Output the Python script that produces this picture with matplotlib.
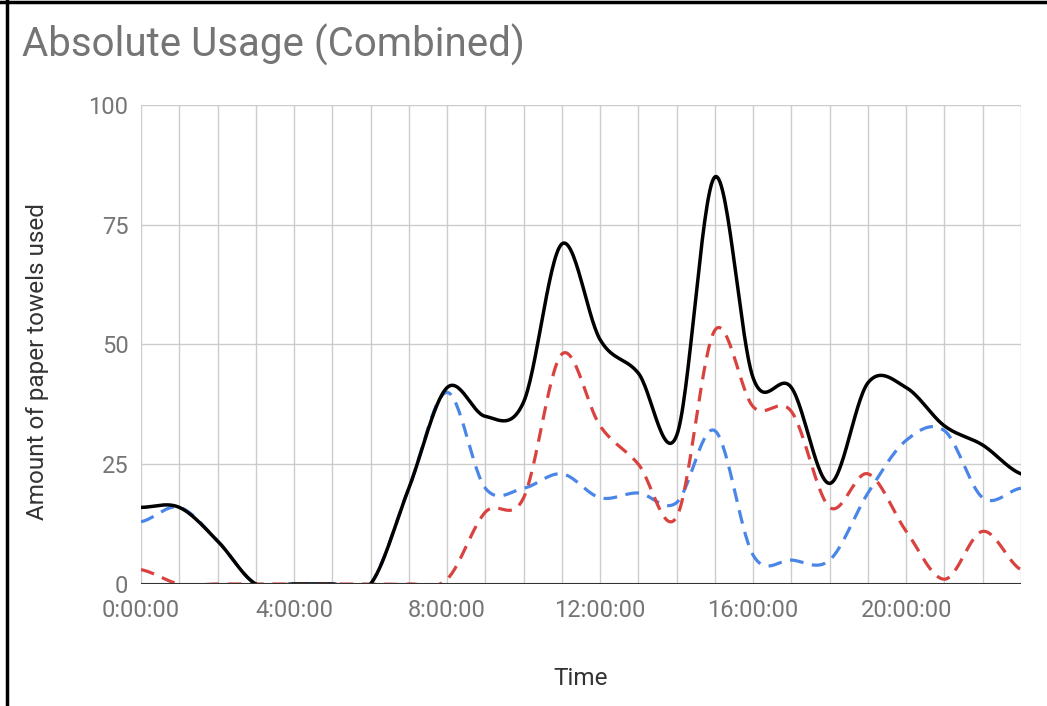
import numpy as np
import matplotlib
matplotlib.use("Agg")
import matplotlib.pyplot as plt
from matplotlib.lines import Line2D

# hourly readings, 0:00 .. 23:00
hours = list(range(24))
total = [16, 16, 9, 0, 0, 0, 0, 20, 41, 35, 38, 71, 51, 44, 31, 85, 43, 41, 21, 42, 41, 33, 29, 23]
dispenser_a = [3, 0, 0, 0, 0, 0, 0, 0, 1, 15, 18, 48, 33, 25, 14, 53, 37, 36, 16, 23, 11, 1, 11, 3]
dispenser_b = [13, 16, 9, 0, 0, 0, 0, 20, 40, 20, 20, 23, 18, 19, 17, 32, 6, 5, 5, 19, 30, 32, 18, 20]
tick_hours = [0, 4, 8, 12, 16, 20]
tick_labels = ["0:00:00", "4:00:00", "8:00:00", "12:00:00", "16:00:00", "20:00:00"]

plt.rcParams['font.family'] = ['Roboto', 'DejaVu Sans']


# smooth curve through the points (catmull-rom style)
def smooth(x, y, n=30):
    x = np.asarray(x, float)
    y = np.asarray(y, float)
    px = np.concatenate([[x[0]], x, [x[-1]]])
    py = np.concatenate([[y[0]], y, [y[-1]]])
    xs, ys = [], []
    t = np.linspace(0, 1, n, endpoint=False)
    for i in range(1, len(px) - 2):
        p0, p1, p2, p3 = py[i - 1], py[i], py[i + 1], py[i + 2]
        m1 = (p2 - p0) / 2
        m2 = (p3 - p1) / 2
        h00 = 2 * t**3 - 3 * t**2 + 1
        h10 = t**3 - 2 * t**2 + t
        h01 = -2 * t**3 + 3 * t**2
        h11 = t**3 - t**2
        xs.append(px[i] + t * (px[i + 1] - px[i]))
        ys.append(h00 * p1 + h10 * m1 + h01 * p2 + h11 * m2)
    xs.append([x[-1]])
    ys.append([y[-1]])
    return np.concatenate(xs), np.concatenate(ys)


fig = plt.figure(figsize=(10.47, 7.06), dpi=100)
ax = fig.add_axes([141 / 1047, 1 - 584 / 706, 880 / 1047, 479 / 706])

xa, ya = smooth(hours, dispenser_a)
xb, yb = smooth(hours, dispenser_b)
xt, yt = smooth(hours, total)
ax.plot(xb, yb, color='#4a86e8', lw=2.3, dashes=(4.3, 2.7), zorder=3)
ax.plot(xa, ya, color='#d9423e', lw=2.3, dashes=(4.3, 2.7), zorder=3)
ax.plot(xt, yt, color='black', lw=2.5, zorder=4)

ax.set_xlim(0, 23)
ax.set_ylim(0, 100)
ax.set_xticks(hours, minor=True)
ax.set_xticks(tick_hours)
ax.set_xticklabels(tick_labels)
ax.set_yticks([0, 25, 50, 75, 100])
ax.grid(True, which='both', axis='x', color='#cccccc', lw=1)
ax.grid(True, which='major', axis='y', color='#cccccc', lw=1)
ax.axhline(0, color='#333333', lw=1.5, zorder=5)
for s in ax.spines.values():
    s.set_visible(False)
ax.tick_params(which='both', length=0)
ax.tick_params(axis='x', pad=11, labelsize=17, labelcolor='#757575')
ax.tick_params(axis='y', pad=9, labelsize=17, labelcolor='#757575')
ax.set_xlabel("Time", fontsize=17.5, color='#333333', labelpad=32)
ax.set_ylabel("Amount of paper towels used", fontsize=17.5, color='#333333')
ax.yaxis.set_label_coords(-0.104, 0.4635)

fig.text(22 / 1047, 1 - 45 / 706, "Absolute Usage (Combined)", fontsize=29,
         color='#757575', va='center', ha='left')

# black frame edges on top and left
fig.add_artist(Line2D([0, 1], [1 - 1.5 / 706] * 2, color='black', lw=2.5))
fig.add_artist(Line2D([6.5 / 1047] * 2, [0, 1], color='black', lw=2.5))

fig.savefig("out.png", dpi=100)
